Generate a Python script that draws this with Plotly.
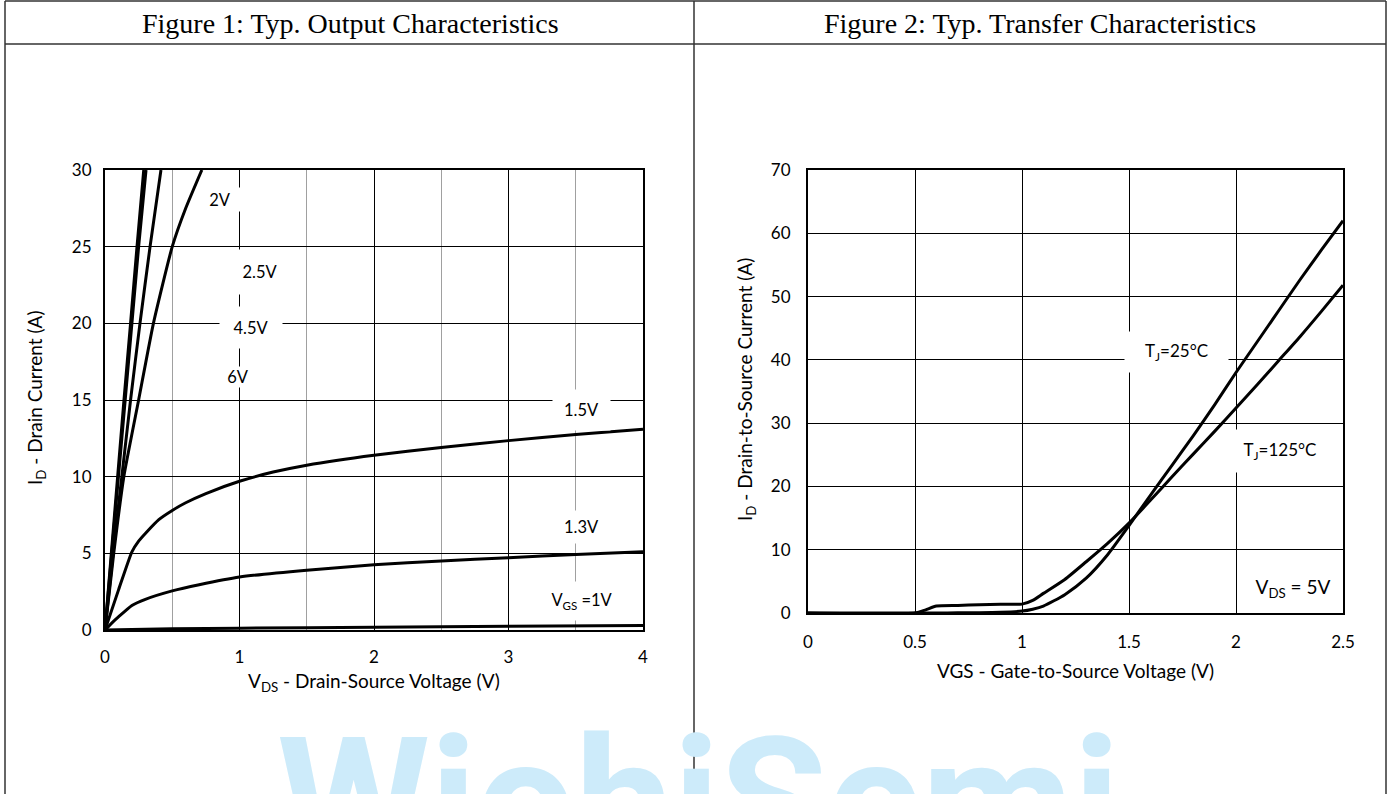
import plotly.graph_objects as go

W, H = 1391, 794

# ---------------- Data: Figure 1 (output characteristics) ----------------
vgs_labels = ["6V", "4.5V", "2.5V", "2V", "1.5V", "1.3V", "1V"]

vds_6v = [0, 0.047, 0.094, 0.141, 0.19, 0.238, 0.288]
id_6v = [0, 5, 10, 15, 20, 25, 30]
vds_4v5 = [0, 0.05, 0.10, 0.15, 0.20, 0.25, 0.305]
id_4v5 = [0, 5, 10, 15, 20, 25, 30]
vds_2v5 = [0, 0.06, 0.125, 0.19, 0.26, 0.335, 0.416]
id_2v5 = [0, 5, 10, 15, 20, 25, 30]
vds_2v = [0, 0.065, 0.14, 0.25, 0.36, 0.5, 0.6, 0.72]
id_2v = [0, 5, 10, 15, 20, 25, 27.5, 30]
vds_1v5 = [0, 0.1, 0.2, 0.25, 0.3, 0.4, 0.5, 0.6, 0.75, 1.0, 1.25, 1.5, 2.0, 2.5, 3.0, 3.5, 4.0]
id_1v5 = [0, 2.6, 5.1, 5.8, 6.3, 7.2, 7.8, 8.3, 8.9, 9.7, 10.3, 10.75, 11.4, 11.9, 12.35, 12.75, 13.1]
vds_1v3 = [0, 0.05, 0.1, 0.2, 0.3, 0.5, 0.7, 1.0, 1.5, 2.0, 2.5, 3.0, 3.5, 4.0]
id_1v3 = [0, 0.45, 0.85, 1.6, 2.0, 2.55, 2.95, 3.45, 3.9, 4.25, 4.5, 4.72, 4.92, 5.1]
vds_1v = [0, 0.5, 1, 2, 3, 4]
id_1v = [0, 0.08, 0.12, 0.18, 0.24, 0.3]

# ---------------- Data: Figure 2 (transfer characteristics) ----------------
vgs = [0, 0.5, 0.55, 0.6, 0.7, 0.8, 0.9, 1.0, 1.05, 1.1, 1.2, 1.3, 1.4, 1.5,
       1.6, 1.7, 1.8, 1.9, 2.0, 2.1, 2.2, 2.3, 2.4, 2.5]
id_125c = [0, 0, 0.5, 1.1, 1.2, 1.3, 1.4, 1.4, 2.0, 3.1, 5.3, 8.1, 11.0, 14.2,
           17.8, 21.5, 25.1, 28.7, 32.4, 36.1, 39.9, 43.7, 47.7, 51.8]
id_25c = [0, 0, 0, 0, 0.02, 0.05, 0.12, 0.3, 0.6, 1.1, 2.9, 5.5, 9.2, 13.8,
          18.6, 23.3, 28.0, 32.9, 38.0, 42.9, 47.8, 52.7, 57.4, 62.0]

fig = go.Figure()
LW = 3
for xs, ys in [(vds_6v, id_6v), (vds_4v5, id_4v5), (vds_2v5, id_2v5), (vds_2v, id_2v),
               (vds_1v5, id_1v5), (vds_1v3, id_1v3), (vds_1v, id_1v)]:
    fig.add_trace(go.Scatter(x=xs, y=ys, mode="lines", xaxis="x", yaxis="y",
                             line=dict(color="black", width=LW, shape="spline", smoothing=0.5),
                             showlegend=False, hoverinfo="skip"))
for ys in [id_25c, id_125c]:
    fig.add_trace(go.Scatter(x=vgs, y=ys, mode="lines", xaxis="x2", yaxis="y2",
                             line=dict(color="black", width=LW, shape="spline", smoothing=0.6),
                             showlegend=False, hoverinfo="skip"))

FONT = "Lato"
def px_x(p):
    return p / W
def px_y(p):
    return 1 - p / H

axis_common = dict(showline=True, linecolor="black", linewidth=2, mirror=True,
                   zeroline=False, gridcolor="black", gridwidth=1.2, ticks="",
                   tickfont=dict(family=FONT, size=17, color="black"),
                   automargin=False, fixedrange=True)

fig.update_layout(
    width=W, height=H, margin=dict(l=0, r=0, t=0, b=0),
    paper_bgcolor="white", plot_bgcolor="white", showlegend=False,
    xaxis=dict(domain=[px_x(105), px_x(643)], range=[0, 4], dtick=1, anchor="y",
               minor=dict(dtick=0.5, showgrid=True, gridcolor="#a0a0a0", gridwidth=1.2),
               ticklabelstandoff=11, **axis_common),
    yaxis=dict(domain=[px_y(630), px_y(170)], range=[0, 30], dtick=5, anchor="x",
               ticklabelstandoff=8, **axis_common),
    xaxis2=dict(domain=[px_x(808), px_x(1343)], range=[0, 2.5], dtick=0.5, anchor="y2",
                ticklabelstandoff=13, **axis_common),
    yaxis2=dict(domain=[px_y(613), px_y(170)], range=[0, 70], dtick=10, anchor="x2",
                ticklabelstandoff=12, **axis_common),
)

# frame (table) lines
frame = dict(color="#333333", width=1.5)
for (x0, y0, x1, y1) in [(5, 1, 1386, 1), (5, 44, 1386, 44), (5, 1, 5, 794),
                         (694, 1, 694, 794), (1386, 1, 1386, 794)]:
    fig.add_shape(type="line", xref="paper", yref="paper",
                  x0=px_x(x0), y0=px_y(y0), x1=px_x(x1), y1=px_y(y1), line=frame)

ann = []
# watermark (cropped at bottom of the page), drawn first so it stays underneath
ann.append(dict(text="<b>WiohiSemi</b>", x=px_x(698), y=px_y(697), xref="paper", yref="paper",
                xanchor="center", yanchor="top", showarrow=False,
                font=dict(family="Roboto", size=175, color="#cdebfa")))
# panel titles
titles = [dict(text="Figure 1: Typ. Output Characteristics", x=px_x(351), y=px_y(23),
               font=dict(family="Liberation Serif", size=28, color="black")),
          dict(text="Figure 2: Typ. Transfer Characteristics", x=px_x(1040), y=px_y(23),
               font=dict(family="Liberation Serif", size=28, color="black"))]
# axis titles
tf = dict(family=FONT, size=19, color="black")
titles += [dict(text="V<sub>DS</sub> - Drain-Source Voltage (V)", x=px_x(374), y=px_y(682), font=tf),
           dict(text="I<sub>D</sub> - Drain Current (A)", x=px_x(36), y=px_y(398), textangle=-90, font=tf),
           dict(text="VGS - Gate-to-Source Voltage (V)", x=px_x(1075), y=px_y(670), font=tf),
           dict(text="I<sub>D</sub> - Drain-to-Source Current (A)", x=px_x(746), y=px_y(390), textangle=-90, font=tf)]
for a in titles:
    a.update(xref="paper", yref="paper", showarrow=False, xanchor="center", yanchor="middle")
ann += titles

# curve labels (white boxed, data coordinates)
lf = dict(family=FONT, size=16.5, color="black")
labels1 = [("2V", 0.855, 28.1, 44, 23), ("2.5V", 1.152, 23.35, 58, 44),
           ("4.5V", 1.085, 19.7, 62, 41), ("6V", 0.989, 16.5, 30, 20),
           ("1.5V", 3.539, 14.35, 57, 40), ("1.3V", 3.546, 6.7, 55, 32),
           ("V<sub>GS</sub> =1V", 3.546, 1.9, 64, 38)]
for t, x, y, w, h in labels1:
    ann.append(dict(text=t, x=x, y=y, xref="x", yref="y", showarrow=False, font=lf,
                    bgcolor="white", width=w, height=h, borderpad=0))
labels2 = [("T<sub>J</sub>=25°C", 1.72, 41.2, 103, 40, 17), ("T<sub>J</sub>=125°C", 2.206, 25.6, 100, 42, 17),
           ("V<sub>DS</sub> = 5V", 2.266, 3.95, 90, 30, 19)]
for t, x, y, w, h, fs in labels2:
    ann.append(dict(text=t, x=x, y=y, xref="x2", yref="y2", showarrow=False,
                    font=dict(family=FONT, size=fs, color="black"),
                    bgcolor="white", width=w, height=h, borderpad=0))

fig.update_layout(annotations=ann)
fig.write_html("out.html")
